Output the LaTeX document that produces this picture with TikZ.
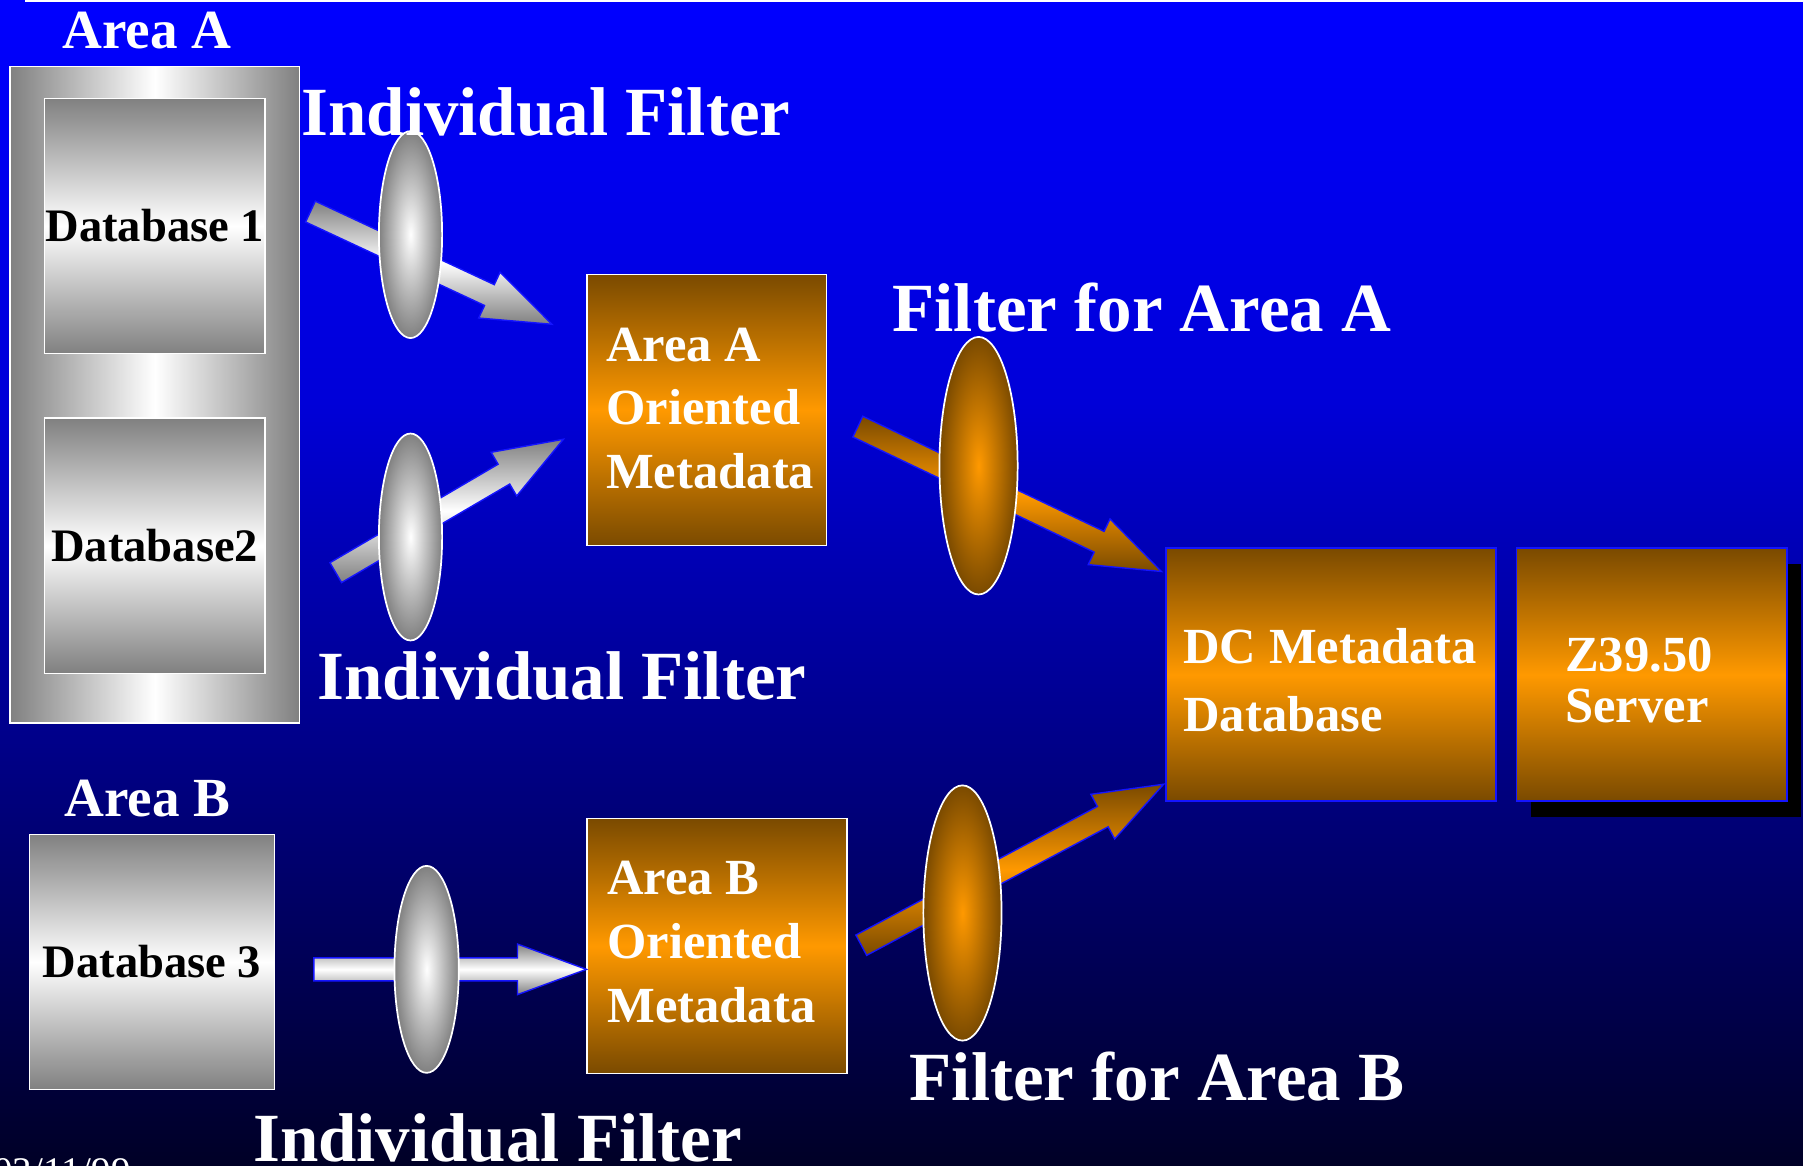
\documentclass[tikz,border=0pt]{standalone}
\usepackage{fontspec}
\setmainfont{Liberation Serif}
\usetikzlibrary{calc,shapes.geometric}

\definecolor{bgtop}{HTML}{0000FF}
\definecolor{bgmid}{HTML}{0000D8}
\definecolor{bgbot}{HTML}{000026}
\definecolor{umber}{HTML}{7A4A00}
\definecolor{amber}{HTML}{FF9900}
\definecolor{steel}{HTML}{808080}
\definecolor{rimblue}{HTML}{1414FF}

% block arrow from a tail coordinate to a tip coordinate
\newcommand{\fatarrow}[3]{%
  \coordinate (#2-hb) at ($(#3)!60pt!(#2)$);
  \path[#1] ($(#2)!10pt!90:(#3)$) -- ($(#2-hb)!10pt!90:(#3)$)
    -- ($(#2-hb)!22pt!90:(#3)$) -- (#3)
    -- ($(#2-hb)!22pt!-90:(#3)$) -- ($(#2-hb)!10pt!-90:(#3)$)
    -- ($(#2)!10pt!-90:(#3)$) -- cycle;}

% stacked lines with a fixed baseline distance, baseline = first line
\newcommand{\threelines}[4]{\vtop{\baselineskip=#1\hbox{#2}\hbox{#3}\hbox{#4}}}
\newcommand{\twolines}[3]{\vtop{\baselineskip=#1\hbox{#2}\hbox{#3}}}

\begin{document}
\begin{tikzpicture}[x=1pt,y=-1pt,
  outerbox/.style={draw=white, line width=1.2pt, anchor=north west, inner sep=0pt,
    left color=steel, right color=steel, middle color=white},
  dbbox/.style={draw=white, line width=1.2pt, anchor=north west, inner sep=0pt,
    top color=steel, bottom color=steel, middle color=white,
    text=black, font=\bfseries\fontsize{40.5}{40.5}\selectfont},
  metabox/.style={draw=white, line width=1.2pt, anchor=north west, inner sep=0pt,
    top color=umber, bottom color=umber, middle color=amber},
  dcbox/.style={metabox, draw=rimblue, line width=1.5pt},
  shadowbox/.style={fill=black, anchor=north west, inner sep=0pt},
  boxtext/.style={anchor=base west, inner sep=0pt, text=white,
    font=\bfseries\fontsize{44}{44}\selectfont},
  biglabel/.style={anchor=base west, inner sep=0pt, text=white,
    font=\bfseries\fontsize{60}{60}\selectfont},
  arealabel/.style={anchor=base, inner sep=0pt, text=white,
    font=\bfseries\fontsize{48}{48}\selectfont},
  greylens/.style={ellipse, draw=white, line width=1.5pt, inner sep=0pt,
    inner color=white, outer color=steel},
  amberlens/.style={ellipse, draw=white, line width=1.5pt, inner sep=0pt,
    inner color=amber, outer color=umber},
  greyarrow/.style={draw=rimblue, line width=1.2pt, line join=miter,
    top color=steel, bottom color=steel, middle color=white},
  amberarrow/.style={draw=rimblue, line width=1.2pt, line join=miter,
    top color=umber, bottom color=umber, middle color=amber}
]
\useasboundingbox (0,0) rectangle (1568,1014);

% slide background
\shade[top color=bgtop, bottom color=bgmid] (0,0) rectangle (1568,351);
\shade[top color=bgmid, bottom color=bgbot] (0,350) rectangle (1568,1014);
\draw[white, line width=1.5pt] (22,1) -- (1568,1);

% area A: two source databases
\node[arealabel] (lblAreaA) at (128,42) {Area A};
\node[outerbox, minimum width=252, minimum height=571] (areaAbox) at (8,57) {};
\node[dbbox, minimum width=192, minimum height=222] (db1) at (38,85) {Database 1};
\node[dbbox, minimum width=192, minimum height=222] (db2) at (38,363) {Database2};

% area B: one source database
\node[arealabel] (lblAreaB) at (128,710) {Area B};
\node[dbbox, minimum width=213, minimum height=222] (db3) at (25,725) {Database 3};

% metadata boxes
\node[metabox, minimum width=208, minimum height=236] (metaA) at (510,238) {};
\node[boxtext] (metaAtext) at (527,314) {\threelines{55.5pt}{Area A}{Oriented}{Metadata}};
\node[metabox, minimum width=226, minimum height=222] (metaB) at (510,711) {};
\node[boxtext] (metaBtext) at (528,778) {\threelines{55.5pt}{Area B}{Oriented}{Metadata}};

\node[dcbox, minimum width=287, minimum height=220] (dc) at (1013,476) {};
\node[boxtext] (dctext) at (1029,577) {\twolines{59pt}{DC Metadata}{Database}};

\node[shadowbox, minimum width=235, minimum height=220] (zshadow) at (1331,490) {};
\node[dcbox, minimum width=235, minimum height=220] (zserver) at (1318,476) {};
\node[boxtext] (ztext) at (1361,584) {\twolines{44pt}{Z39.50}{Server}};

% arrow end points
\coordinate (t1) at (270,184);  \coordinate (h1) at (480,282);
\coordinate (t2) at (292,498);  \coordinate (h2) at (490,382);
\coordinate (t3) at (273,843);  \coordinate (h3) at (510,843);
\coordinate (t4) at (746,371);  \coordinate (h4) at (1010,497);
\coordinate (t5) at (749,822);  \coordinate (h5) at (1012,682);

\fatarrow{greyarrow}{t1}{h1}
\fatarrow{greyarrow}{t2}{h2}
\fatarrow{greyarrow}{t3}{h3}
\fatarrow{amberarrow}{t4}{h4}
\fatarrow{amberarrow}{t5}{h5}

% filters
\node[greylens, minimum width=55, minimum height=180] (lens1) at (357,204) {};
\node[greylens, minimum width=55, minimum height=180] (lens2) at (357,467) {};
\node[greylens, minimum width=56, minimum height=180] (lens3) at (371,843) {};
\node[amberlens, minimum width=68, minimum height=224] (lensA) at (851,405) {};
\node[amberlens, minimum width=68, minimum height=222] (lensB) at (837,794) {};

% filter captions
\node[biglabel] (capInd1) at (262,118) {Individual Filter};
\node[biglabel] (capInd2) at (276,608) {Individual Filter};
\node[biglabel] (capInd3) at (220,1010) {Individual Filter};
\node[biglabel] (capFA) at (776,288) {Filter for Area A};
\node[biglabel] (capFB) at (791,957) {Filter for Area B};

% date in the slide footer
\node[anchor=base west, inner sep=0pt, text=white,
  font=\fontsize{34}{34}\selectfont] (date) at (-6,1030) {03/11/99};
\end{tikzpicture}
\end{document}
